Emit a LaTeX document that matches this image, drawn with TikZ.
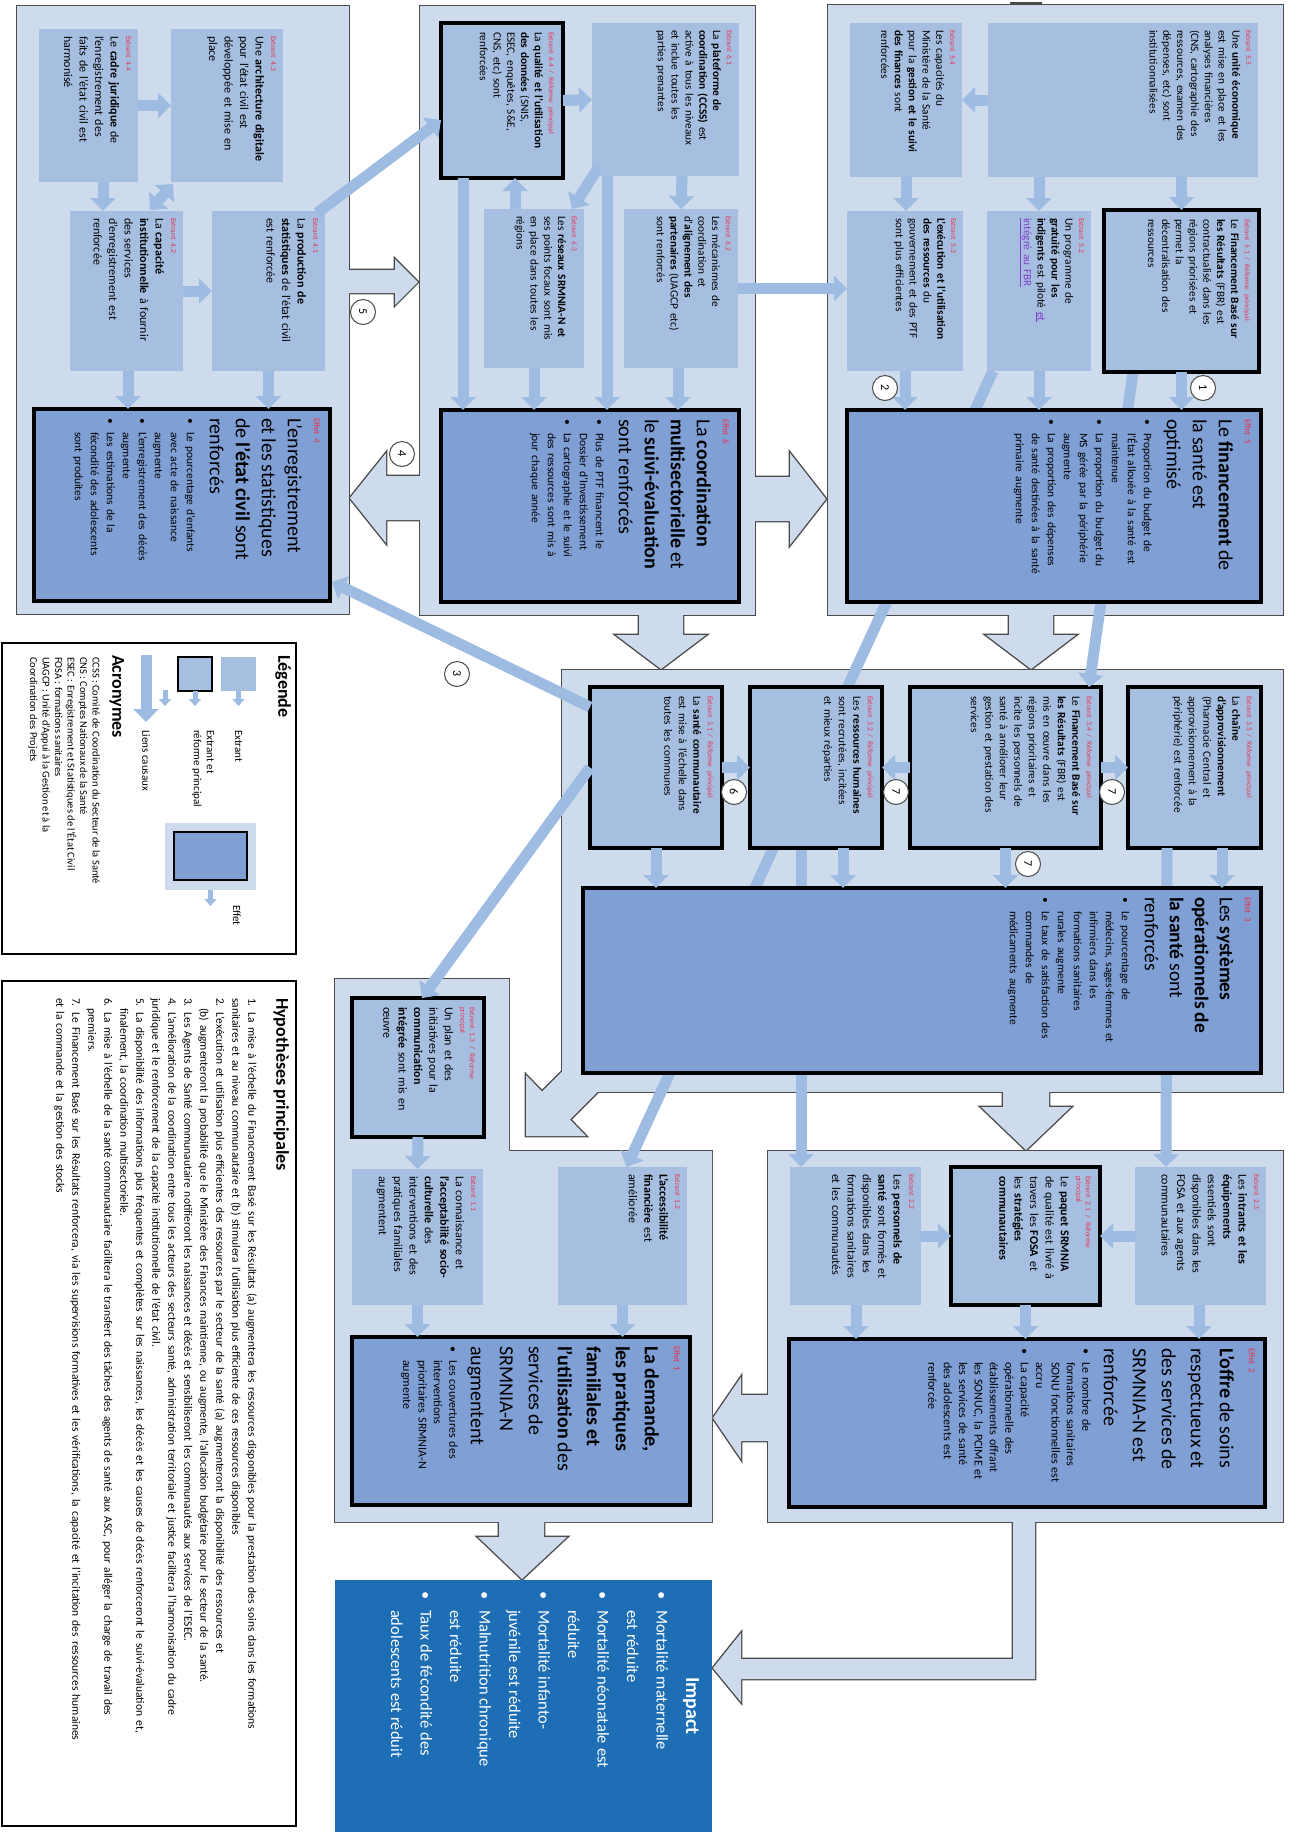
\documentclass[tikz,border=0pt]{standalone}
\usepackage{fontspec}
\setmainfont{Carlito}
\usetikzlibrary{arrows.meta,fit,calc}
\setlength{\parindent}{0pt}
\definecolor{panelc}{RGB}{205,219,236}
\definecolor{exc}{RGB}{166,191,225}
\definecolor{effc}{RGB}{128,159,213}
\definecolor{linkc}{RGB}{158,187,225}
\definecolor{labc}{RGB}{232,50,80}
\definecolor{edgec}{RGB}{75,75,75}
\definecolor{impc}{RGB}{30,110,182}
\definecolor{purp}{RGB}{128,64,200}
\newcommand\lab[1]{{\fontsize{7.5}{9.5}\selectfont\color{labc}#1\par}}
\newcommand\efl[1]{{\fontsize{9}{11}\selectfont\color{labc}#1\par}}
\newcommand\bulx[1]{\par\hangindent=#1\hangafter=1\noindent\makebox[#1][l]{\textbullet}}
\newcommand\bul{\bulx{14pt}}
\newcommand\nl{\newline}
\newcommand\ftA{\fontsize{12}{15.5}\selectfont}
\newcommand\ftB{\fontsize{11.3}{13.8}\selectfont}
\newcommand\ftD{\fontsize{11.3}{14.5}\selectfont}
\newcommand\ftE{\fontsize{12}{15.4}\selectfont}
\newcommand\xt[4]{\node[txt, text width=#2, font=#3] (#1t) at ($(#1.north east)+(-7,7)$) {#4};}
\newcommand\xtr[4]{\node[txt, text width=#2, font=#3] (#1t) at ($(#1.north east)+(-9,9)$) {#4};}
\newcommand\et[3]{\node[txt, text width=#2] (#1t) at ($(#1.north east)+(-10,9)$) {#3};}
\newcommand\allshapes[1]{%
\path[#1] (17,6) rectangle (349,614);
\path[#1] (420,6) rectangle (755,615);
\path[#1] (828,5) rectangle (1283,615);
\path[#1] (562,670) rectangle (1283,1092);
\path[#1] (768,1151) rectangle (1283,1522);
\path[#1] (335,979) -- (509,979) -- (509,1151) -- (712,1151) -- (712,1522) -- (335,1522) -- cycle;
\path[#1] (340,270) -- (395,270) -- (395,259) -- (418,282) -- (395,305) -- (395,293) -- (340,293) -- cycle;
\path[#1] (430,476) -- (386,476) -- (386,453) -- (350,498) -- (386,543) -- (386,520) -- (430,520) -- cycle;
\path[#1] (745,477) -- (790,477) -- (790,453) -- (826,499) -- (790,545) -- (790,521) -- (745,521) -- cycle;
\path[#1] (639,605) -- (639,635) -- (616,635) -- (661,669) -- (706,635) -- (683,635) -- (683,605) -- cycle;
\path[#1] (1009,605) -- (1009,635) -- (986,635) -- (1031,669) -- (1076,635) -- (1053,635) -- (1053,605) -- cycle;
\path[#1] (1003,1085) -- (1003,1107) -- (981,1107) -- (1026,1150) -- (1071,1107) -- (1049,1107) -- (1049,1085) -- cycle;
\path[#1] (575,1058.5) -- (542,1091.5) -- (526,1075) -- (526,1136) -- (586,1136) -- (570,1119.6) -- (603,1086.6) -- cycle;
\path[#1] (775,1395) -- (741,1395) -- (741,1377) -- (713,1418) -- (741,1459) -- (741,1441) -- (775,1441) -- cycle;
\path[#1] (1013,1515) -- (1013,1659) -- (741,1659) -- (741,1633) -- (713,1668) -- (741,1702) -- (741,1679) -- (1035,1679) -- (1035,1515) -- cycle;
\path[#1] (499,1515) -- (499,1537) -- (478,1537) -- (522,1579) -- (567,1537) -- (544,1537) -- (544,1515) -- cycle;
}
\begin{document}
\begin{tikzpicture}[x=1pt,y=-1pt,
  every node/.style={inner sep=0pt, outer sep=0pt},
  area/.style={inner sep=0pt, draw=none},
  exbox/.style={fill=exc, draw=none, inner sep=0pt},
  exr/.style={fill=exc, draw=black, line width=3.4pt, inner sep=0pt},
  eff/.style={fill=effc, draw=black, line width=3.4pt, inner sep=0pt},
  link/.style={draw=linkc, line width=11pt, -{Triangle[width=25pt,length=13pt]}},
  dlink/.style={draw=linkc, line width=11pt, {Triangle[width=25pt,length=13pt]}-{Triangle[width=25pt,length=13pt]}},
  slink/.style={draw=linkc, line width=5pt, -{Triangle[width=12pt,length=7pt]}},
  txt/.style={rotate=-90, anchor=north west, align=left, font=\fontsize{12}{15.5}\selectfont},
  outl/.style={draw=edgec, line width=2.8pt},
  circ/.style={circle, draw=edgec, fill=white, line width=1pt, minimum size=25pt, font=\fontsize{12}{12}\selectfont, rotate=-90},
]
\useasboundingbox[fill=white] (0,0) rectangle (1294,1832);

% panels and block arrows (outline pass, then fill pass)
\allshapes{outl}
\allshapes{fill=panelc}
\draw[edgec, line width=2pt] (1010,3) -- (1042,3);

% legend, hypotheses, impact
\node[area, fit={(2,643)(296,954)}, draw=black, line width=1.3pt, fill=white] (leg) {};
\node[area, fit={(2,981)(296,1826)}, draw=black, line width=1.3pt, fill=white] (hyp) {};
\node[area, fit={(335,1580)(712,1832)}, fill=impc] (imp) {};

% plain extrant boxes
\node[exbox, fit={(39,29)(138,182)}] (e44) {};
\node[exbox, fit={(171,29)(283,182)}] (e43) {};
\node[exbox, fit={(70,211)(183,371)}] (e42) {};
\node[exbox, fit={(212,211)(325,371)}] (e41) {};
\node[exbox, fit={(592,23)(739,176)}] (e61) {};
\node[exbox, fit={(484,209)(584,368)}] (e63) {};
\node[exbox, fit={(624,209)(738,368)}] (e62) {};
\node[exbox, fit={(988,23)(1258,177)}] (e55) {};
\node[exbox, fit={(850,23)(962,177)}] (e54) {};
\node[exbox, fit={(847,211)(963,371)}] (e53) {};
\node[exbox, fit={(987,211)(1091,371)}] (e52) {};
\node[exbox, fit={(790,1167)(921,1305)}] (e22) {};
\node[exbox, fit={(1135,1167)(1266,1305)}] (e23) {};
\node[exbox, fit={(352,1169)(483,1305)}] (e11) {};
\node[exbox, fit={(558,1167)(687,1305)}] (e12) {};

% bordered boxes (reform extrants)
\node[exr, fit={(441,23)(563,178)}] (e64) {};
\node[exr, fit={(1104,210)(1259,372)}] (e51) {};
\node[exr, fit={(590,687)(722,848)}] (e31) {};
\node[exr, fit={(750,687)(882,848)}] (e32) {};
\node[exr, fit={(910,687)(1101,848)}] (e34) {};
\node[exr, fit={(1128,687)(1261,848)}] (e35) {};
\node[exr, fit={(951,1167)(1100,1305)}] (e21) {};
\node[exr, fit={(352,998)(484,1137)}] (e13) {};

% long links passing behind boxes
\draw[link] ($(e51.south west)+(29,0)$) -- ($(e34.north east)+(-12,0)$);
\draw[link] ($(e52.south west)+(6,0)$) -- ($(e12.north)+(4,0)$);
\draw[link] ($(e32.south)+(-15,0)$) -- ($(e22.north)+(-54.5,0)$);
\draw[link] ($(e35.south)+(-27.5,0)$) -- ($(e23.north)+(-34.5,0)$);

% boxes drawn over those links
\node[exbox, fit={(987,211)(1091,371)}] (e52b) {};
\node[exr, fit={(1104,210)(1259,372)}] (e51b) {};
\node[exr, fit={(750,687)(882,848)}] (e32b) {};
\node[eff, fit={(34,409)(330,601)}] (eff4) {};
\node[eff, fit={(441,410)(739,602)}] (eff6) {};
\node[eff, fit={(847,410)(1261,602)}] (eff5) {};
\node[eff, fit={(583,888)(1261,1073)}] (eff3) {};
\node[eff, fit={(789,1339)(1265,1507)}] (eff2) {};
\node[eff, fit={(352,1337)(690,1505)}] (eff1) {};

% causal links
\draw[link] (e44.east) -- (e43.west);
\draw[link] ($(e44.south)+(14.5,0)$) -- ($(e42.north)+(-23.5,0)$);
\draw[dlink] ($(e43.south west)+(2,2)$) -- ($(e42.north east)+(-33,-1)$);
\draw[link] (e42.east) -- (e41.west);
\draw[link] ($(e42.south)+(1.5,0)$) -- ($(eff4.north west)+(94,0)$);
\draw[link] (e41.south) -- ($(eff4.north west)+(234.5,0)$);
\draw[link] ($(e41.north east)+(-8,2)$) -- ($(e64.west)+(0,19.5)$);
\draw[link] (e64.east) -- (e61.west);
\draw[link] ($(e61.south)+(16.5,0)$) -- (e62.north);
\draw[link] ($(e63.north)+(-19,0)$) -- ($(e64.south)+(13,0)$);
\draw[link] ($(e61.south west)+(6,-8)$) -- ($(e63.north east)+(-12,0)$);
\draw[link] ($(e61.south west)+(15,0)$) -- ($(eff6.north west)+(166,0)$);
\draw[link] ($(e64.south west)+(22,0)$) -- ($(eff6.north west)+(22,0)$);
\draw[link] (e63.south) -- ($(eff6.north west)+(93,0)$);
\draw[link] ($(e62.south)+(-3,0)$) -- ($(eff6.north west)+(237,0)$);
\draw[link] (e62.east) -- ($(e53.west)+(0,-2.5)$);
\draw[link] (e55.west) -- (e54.east);
\draw[link] (e54.south) -- ($(e53.north)+(1,0)$);
\draw[link] ($(e55.south)+(-84,0)$) -- (e52.north);
\draw[link] ($(e55.south)+(58.5,0)$) -- (e51.north);
\draw[link] (e53.south) -- ($(eff5.north west)+(58,0)$);
\draw[link] (e52.south) -- ($(eff5.north west)+(192,0)$);
\draw[link] (e51.south) -- ($(eff5.north west)+(334.5,0)$);
\draw[link] (e31.east) -- (e32.west);
\draw[link] (e34.west) -- (e32.east);
\draw[link] (e34.east) -- (e35.west);
\draw[link] (e31.south) -- ($(eff3.north west)+(73,0)$);
\draw[link] ($(e32.south)+(27,0)$) -- ($(eff3.north west)+(260,0)$);
\draw[link] (e34.south) -- ($(eff3.north west)+(422.5,0)$);
\draw[link] ($(e35.south)+(27.5,0)$) -- ($(eff3.north west)+(639,0)$);
\draw[link] ($(e31.north west)+(0,20)$) -- ($(eff4.east)+(2,77)$);
\draw[link] (e31.west) -- ($(e13.north)+(4,0)$);
\draw[link] (e22.east) -- (e21.west);
\draw[link] (e23.west) -- (e21.east);
\draw[link] ($(e22.south)+(0.5,0)$) -- ($(eff2.north west)+(67,0)$);
\draw[link] (e21.south) -- ($(eff2.north west)+(236.5,0)$);
\draw[link] ($(e23.south)+(-1.5,0)$) -- ($(eff2.north west)+(410,0)$);
\draw[link] (e13.south) -- (e11.north);
\draw[link] (e11.south) -- ($(eff1.north west)+(65.5,0)$);
\draw[link] (e12.south) -- ($(eff1.north west)+(270.5,0)$);

% texts panel A
\xt{e44}{139pt}{\ftA}{\lab{Extrant 4.4}Le \textbf{cadre juridique} de\\l'enregistrement des\\faits de l'état civil est\\harmonisé}
\xt{e43}{139pt}{\ftA}{\lab{Extrant 4.3}Une \textbf{architecture digitale}\\pour l'état civil est\\développée et mise en\\place}
\xt{e42}{146pt}{\ftA}{\lab{Extrant 4.2}La \textbf{capacité}\\\textbf{institutionnelle} à fournir\\des services\\d'enregistrement est\\renforcée}
\xt{e41}{146pt}{\ftA}{\lab{Extrant 4.1}La \textbf{production de}\\\textbf{statistiques} de l'état civil\\est renforcée}
\et{eff4}{176pt}{\efl{Effet 4}\fontsize{20}{26}\selectfont L'enregistrement\\et les statistiques\\de \textbf{l'état civil} sont\\renforcés\par\vspace{7pt}\fontsize{11.5}{16}\selectfont\bul Le pourcentage d'enfants\nl avec acte de naissance\nl augmente\bul L'enregistrement des décès\nl augmente\bul Les estimations de la\nl fécondité des adolescents\nl sont produites\par}

% texts panel B
\xtr{e64}{140pt}{\ftB}{\lab{Extrant 6.4 / Réforme principal}La \textbf{qualité et l'utilisation}\\\textbf{des données} (SNIS,\\ESEC, enquêtes, S\&E,\\CNS, etc) sont\\renforcées}
\xt{e61}{141pt}{\ftB}{\lab{Extrant 6.1}La \textbf{plateforme de}\\\textbf{coordination (CCSS)} est\\active à tous les niveaux\\et inclue toutes les\\parties prenantes}
\xt{e63}{147pt}{\ftB}{\lab{Extrant 6.3}Les \textbf{réseaux SRMNIA-N et}\\ses points focaux sont mis\\en place dans toutes les\\régions}
\xt{e62}{147pt}{\ftB}{\lab{Extrant 6.2}Les mécanismes de\\coordination et\\d'\textbf{alignement des}\\\textbf{partenaires} (UAGCP etc)\\sont renforcés}
\et{eff6}{176pt}{\efl{Effet 6}\fontsize{20}{26}\selectfont La \textbf{coordination}\\\textbf{multisectorielle} et\\le \textbf{suivi-évaluation}\\sont renforcés\par\vspace{7pt}\fontsize{11.5}{16}\selectfont\bul Plus de PTF financent le\nl Dossier d'Investissement\bul La cartographie et le suivi\nl des ressources sont mis à\nl jour chaque année\par}

% texts panel C
\xt{e55}{142pt}{\ftB}{\lab{Extrant 5.5}Une \textbf{unité économique}\\est mise en place et les\\analyses financières\\(CNS, cartographie des\\ressources, examen des\\dépenses, etc) sont\\institutionnalisées}
\xt{e54}{142pt}{\ftB}{\lab{Extrant 5.4}Les capacités du\\Ministère de la Santé\\pour la \textbf{gestion et le suivi}\\\textbf{des finances} sont\\renforcées}
\xt{e53}{148pt}{\ftB}{\lab{Extrant 5.3}\textbf{L'exécution et l'utilisation}\\\textbf{des ressources} du\\gouvernement et des PTF\\sont plus efficientes}
\xt{e52}{148pt}{\ftB}{\lab{Extrant 5.2}Un programme de\\\textbf{gratuité pour les}\\\textbf{indigents} est piloté \textcolor{purp}{\underline{et}}\\\textcolor{purp}{\underline{intégré au FBR}}}
\xtr{e51}{146pt}{\ftB}{\lab{Extrant 5.1 / Réforme principal}Le \textbf{Financement Basé sur}\\\textbf{les Résultats} (FBR) est\\contractualisé dans les\\régions priorisées et\\permet la\\décentralisation des\\ressources}
\et{eff5}{176pt}{\efl{Effet 5}\fontsize{20}{26}\selectfont Le \textbf{financement} de\\la santé est\\optimisé\par\vspace{7pt}\fontsize{11.5}{16}\selectfont\bul Proportion du budget de\nl l'État allouée à la santé est\nl maintenue\bul La proportion du budget du\nl MS gérée par la périphérie\nl augmente\bul La proportion des dépenses\nl de santé destinées à la santé\nl primaire augmente\par}

% texts panel D
\xtr{e35}{145pt}{\ftD}{\lab{Extrant 3.5 / Réforme principal}La \textbf{chaîne}\\\textbf{d'approvisionnement}\\(Pharmacie Central et\\approvisionnement à la\\périphérie) est renforcée}
\xtr{e34}{145pt}{\ftD}{\lab{Extrant 3.4 / Réforme principal}Le \textbf{Financement Basé sur}\\\textbf{les Résultats} (FBR) est\\mis en œuvre dans les\\régions prioritaires et\\incite les personnels de\\santé à améliorer leur\\gestion et prestation des\\services}
\xtr{e32}{145pt}{\ftD}{\lab{Extrant 3.2 / Réforme principal}Les \textbf{ressources humaines}\\sont recrutées, incitées\\et mieux réparties}
\xtr{e31}{145pt}{\ftD}{\lab{Extrant 3.1 / Réforme principal}La \textbf{santé communautaire}\\est mise à l'échelle dans\\toutes les communes}
\et{eff3}{168pt}{\efl{Effet 3}\fontsize{19.5}{25}\selectfont Les \textbf{systèmes}\\\textbf{opérationnels de}\\\textbf{la santé} sont\\renforcés\par\vspace{7pt}\fontsize{11.5}{16}\selectfont\bul Le pourcentage de\nl médecins, sages-femmes et\nl infirmiers dans les\nl formations sanitaires\nl rurales augmente\bul Le taux de satisfaction des\nl commandes de\nl médicaments augmente\par}

% texts panel E
\xt{e23}{128pt}{\ftE}{\lab{Extrant 2.3}Les \textbf{intrants et les}\\\textbf{équipements}\\essentiels sont\\disponibles dans les\\FOSA et aux agents\\communautaires}
\xtr{e21}{126pt}{\ftE}{\lab{Extrant 2.1 / Réforme\\principal}Le \textbf{paquet SRMNIA}\\de qualité est livré à\\travers les \textbf{FOSA} et\\les \textbf{stratégies}\\\textbf{communautaires}}
\xt{e22}{128pt}{\ftE}{\lab{Extrant 2.2}Les \textbf{personnels de}\\\textbf{santé} sont formés et\\disponibles dans les\\formations sanitaires\\et les communautés}
\et{eff2}{152pt}{\efl{Effet 2}\fontsize{20}{29}\selectfont\textbf{L'offre} de soins\\respectueux et\\des services de\\SRMNIA-N est\\renforcée\par\vspace{6pt}\fontsize{12}{15.4}\selectfont\bul Le nombre de\nl formations sanitaires\nl SONU fonctionnelles est\nl accru\bul La capacité\nl opérationnelle des\nl établissements offrant\nl les SONUC, la PCIME et\nl les services de santé\nl des adolescents est\nl renforcée\par}

% texts panel F
\xtr{e13}{124pt}{\ftE}{\lab{Extrant 1.3 / Réforme\\principal}Un plan et des\\initiatives pour la\\\textbf{communication}\\\textbf{intégrée} sont mis en\\œuvre}
\xt{e11}{128pt}{\ftE}{\lab{Extrant 1.1}La connaissance et\\\textbf{l'acceptabilité socio-}\\\textbf{culturelle} des\\interventions et des\\pratiques familiales\\augmentent}
\xt{e12}{128pt}{\ftE}{\lab{Extrant 1.2}\textbf{L'accessibilité}\\\textbf{financière} est\\améliorée}
\et{eff1}{152pt}{\efl{Effet 1}\fontsize{20}{29}\selectfont\textbf{La demande,}\\\textbf{les pratiques}\\\textbf{familiales et}\\\textbf{l'utilisation} des\\services de\\SRMNIA-N\\augmentent\par\vspace{6pt}\fontsize{12}{15.4}\selectfont\bul Les couvertures des\nl interventions\nl prioritaires SRMNIA-N\nl augmente\par}

% impact
\node[txt, text width=230pt, text=white] (impt) at ($(imp.north east)+(-13,11)$) {{\fontsize{20}{29}\selectfont\centering\textbf{Impact}\par}\fontsize{16.5}{29.5}\selectfont\bulx{19pt}Mortalité maternelle\nl est réduite\bulx{19pt}Mortalité néonatale est\nl réduite\bulx{19pt}Mortalité infanto-\nl juvénile est réduite\bulx{19pt}Malnutrition chronique\nl est réduite\bulx{19pt}Taux de fécondité des\nl adolescents est réduit\par};

% hypotheses
\node[txt, text width=825pt] (hypt) at ($(hyp.north east)+(-7,17)$) {{\fontsize{18}{22}\selectfont\bfseries Hypothèses principales\par}\vspace{12pt}\fontsize{11.5}{16}\selectfont
1. La mise à l'échelle du Financement Basé sur les Résultats (a) augmentera les ressources disponibles pour la prestation des soins dans les formations\\
sanitaires et au niveau communautaire et (b) stimulera l'utilisation plus efficiente de ces ressources disponibles\\
2. L'exécution et utilisation plus efficientes des ressources par le secteur de la santé (a) augmenteront la disponibilité des ressources et\\
\hspace*{10pt}(b) augmenteront la probabilité que le Ministère des Finances maintienne, ou augmente, l'allocation budgétaire pour le secteur de la santé.\\
3. Les Agents de Santé communautaire notifieront les naissances et décès et sensibiliseront les communautés aux services de l'ESEC.\\
4. L'amélioration de la coordination entre tous les acteurs des secteurs santé, administration territoriale et justice facilitera l'harmonisation du cadre\\
juridique et le renforcement de la capacité institutionnelle de l'état civil.\\
5. La disponibilité des informations plus fréquentes et complètes sur les naissances, les décès et les causes de décès renforceront le suivi-évaluation et,\\
\hspace*{10pt}finalement, la coordination multisectorielle.\\
6. La mise à l'échelle de la santé communautaire facilitera le transfert des tâches des agents de santé aux ASC, pour alléger la charge de travail des\\
\hspace*{10pt}premiers.\\
7. Le Financement Basé sur les Résultats renforcera, via les supervisions formatives et les vérifications, la capacité et l'incitation des ressources humaines\\
et la commande et la gestion des stocks\par};

% legend
\node[txt, font=\fontsize{18}{22}\selectfont\bfseries] (legt) at (291,655) {Légende};
\node[exbox, fit={(221,657)(256,691)}] (sw1) {};
\node[exr, line width=2.5pt, fit={(178,657)(212,691)}] (sw2) {};
\coordinate (sw1e) at (238.5,706);
\coordinate (sw2e) at (195,706);
\draw[slink] (sw1.south) -- (sw1e);
\draw[slink] (sw2.south) -- (sw2e);
\coordinate (lk1s) at (146,655);
\coordinate (lk1e) at (146,722);
\draw[link] (lk1s) -- (lk1e);
\coordinate (lk2s) at (165,690);
\coordinate (lk2e) at (165,706);
\draw[slink] (lk2s) -- (lk2e);
\node[txt, anchor=west, font=\fontsize{11}{13}\selectfont] (l1) at (238.5,730) {Extrant};
\node[txt, font=\fontsize{11}{13}\selectfont] (l2) at (214,730) {Extrant et\\réforme principal};
\node[txt, anchor=west, font=\fontsize{11}{13}\selectfont] (l3) at (146,730) {Liens causaux};
\node[area, fill=panelc, fit={(165,823)(256,890)}] (sw3) {};
\node[eff, line width=2.5pt, fit={(174,832)(247,880)}] (sw4) {};
\coordinate (sw3e) at (210.5,906);
\draw[slink] (sw3.south) -- (sw3e);
\node[txt, anchor=west, font=\fontsize{11}{13}\selectfont] (l4) at (237,905) {Effet};
\node[txt, font=\fontsize{18}{22}\selectfont\bfseries] (acrt) at (124,655) {Acronymes};
\node[txt, font=\fontsize{10.5}{12.5}\selectfont] (acr) at (100,657) {CCSS : Comité de Coordination du Secteur de la Santé\\CNS : Comptes Nationaux de la Santé\\ESEC : Enregistrement et Statistiques de l'État Civil\\FOSA : formations sanitaires\\UAGCP : Unité d'Appui à la Gestion et à la\\Coordination des Projets};

% hypothesis numbers
\node[circ] (n1) at (1203,388) {1};
\node[circ] (n2) at (885,388) {2};
\node[circ] (n3) at (457,674) {3};
\node[circ] (n4) at (402,454) {4};
\node[circ] (n5) at (363,312) {5};
\node[circ] (n6) at (734,792) {6};
\node[circ] (n7a) at (896,792) {7};
\node[circ] (n7b) at (1112,792) {7};
\node[circ] (n7c) at (1028,864) {7};
\end{tikzpicture}
\end{document}
